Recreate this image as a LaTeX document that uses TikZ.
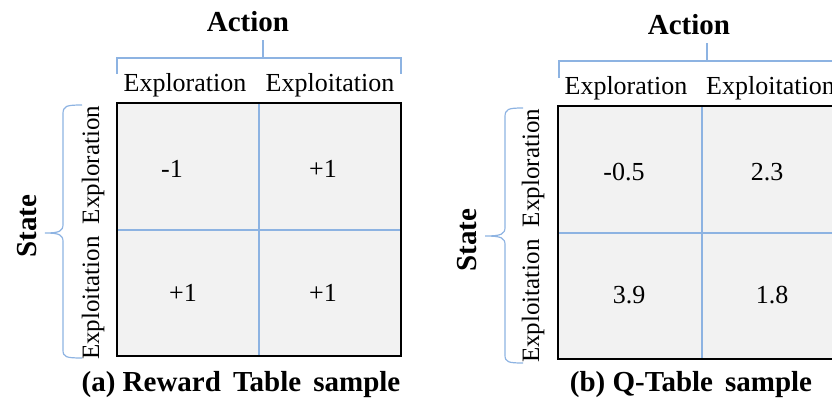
\documentclass[tikz,border=0pt]{standalone}
\usepackage{fontspec}
\setmainfont{Liberation Serif}
\begin{document}
\begin{tikzpicture}[x=1pt,y=-1pt,
  cellfill/.style={fill=cellgray},
  gridline/.style={draw=lineblue,line width=1.2pt},
  frame/.style={draw=black,line width=2pt},
  brace/.style={draw=braceblue,line width=1.2pt},
  head/.style={font=\fontsize{26}{29}\selectfont,inner sep=0pt},
  rowhead/.style={font=\fontsize{25}{28}\selectfont,inner sep=0pt,rotate=90},
  val/.style={font=\fontsize{26}{29}\selectfont,inner sep=0pt},
  bold/.style={font=\fontsize{29}{33}\selectfont\bfseries,inner sep=0pt}]
\definecolor{cellgray}{HTML}{F2F2F2}
\definecolor{lineblue}{HTML}{8DB3E2}
\definecolor{braceblue}{HTML}{8DB3E2}
\useasboundingbox (0,0) rectangle (832,405);
\clip (0,0) rectangle (832,405);
% ---------- (a) Reward table ----------
\fill[cellfill] (117,103) rectangle (401,356);
\draw[gridline] (259,103) -- (259,356);
\draw[gridline] (117,230) -- (401,230);
\draw[frame] (117,103) rectangle (401,356);
\node[val] (a11) at (172,169) {-1};
\node[val] (a12) at (323,169) {+1};
\node[val] (a21) at (183,293) {+1};
\node[val] (a22) at (323,293) {+1};
\node[head] (ah1) at (185,85) {Exploration};
\node[head] (ah2) at (330,85) {Exploitation};
\node[rowhead] (ar1) at (93,165) {Exploration};
\node[rowhead] (ar2) at (93,298) {Exploitation};
\draw[brace] (117,74) -- (117,58) -- (401,58) -- (401,74);
\draw[brace] (263,58) -- (263,40);
\node[bold] (aact) at (248,22) {Action};
\draw[brace] (82,105) .. controls (66,105) and (63,106) .. (63,114) -- (63,224)
  .. controls (63,231) and (60,233) .. (45,233)
  .. controls (60,233) and (63,235) .. (63,242) -- (63,350)
  .. controls (63,357) and (66,358) .. (82,358);
\node[bold,rotate=90] (astate) at (27,226) {State};
\node[bold] (acap) at (241,385) {(a) Reward\, Table\, sample};
% ---------- (b) Q table ----------
\fill[cellfill] (558,106) rectangle (846,359);
\draw[gridline] (702,106) -- (702,359);
\draw[gridline] (558,233) -- (846,233);
\draw[frame] (558,106) rectangle (846,359);
\node[val] (b11) at (624,172) {-0.5};
\node[val] (b12) at (767,172) {2.3};
\node[val] (b21) at (629,295) {3.9};
\node[val] (b22) at (772,295) {1.8};
\node[head] (bh1) at (626,88) {Exploration};
\node[head,anchor=west] (bh2) at (706,88) {Exploitation};
\node[rowhead] (br1) at (533,168) {Exploration};
\node[rowhead] (br2) at (533,301) {Exploitation};
\draw[brace] (559,78) -- (559,61) -- (860,61);
\draw[brace] (707,61) -- (707,43);
\node[bold] (bact) at (689,25) {Action};
\draw[brace] (523,108) .. controls (508,108) and (505,109) .. (505,117) -- (505,227)
  .. controls (505,234) and (502,236) .. (485,236)
  .. controls (502,236) and (505,238) .. (505,245) -- (505,355)
  .. controls (505,362) and (508,363) .. (523,363);
\node[bold,rotate=90] (bstate) at (467,240) {State};
\node[bold] (bcap) at (691,385) {(b) Q-Table\, sample};
\end{tikzpicture}
\end{document}
